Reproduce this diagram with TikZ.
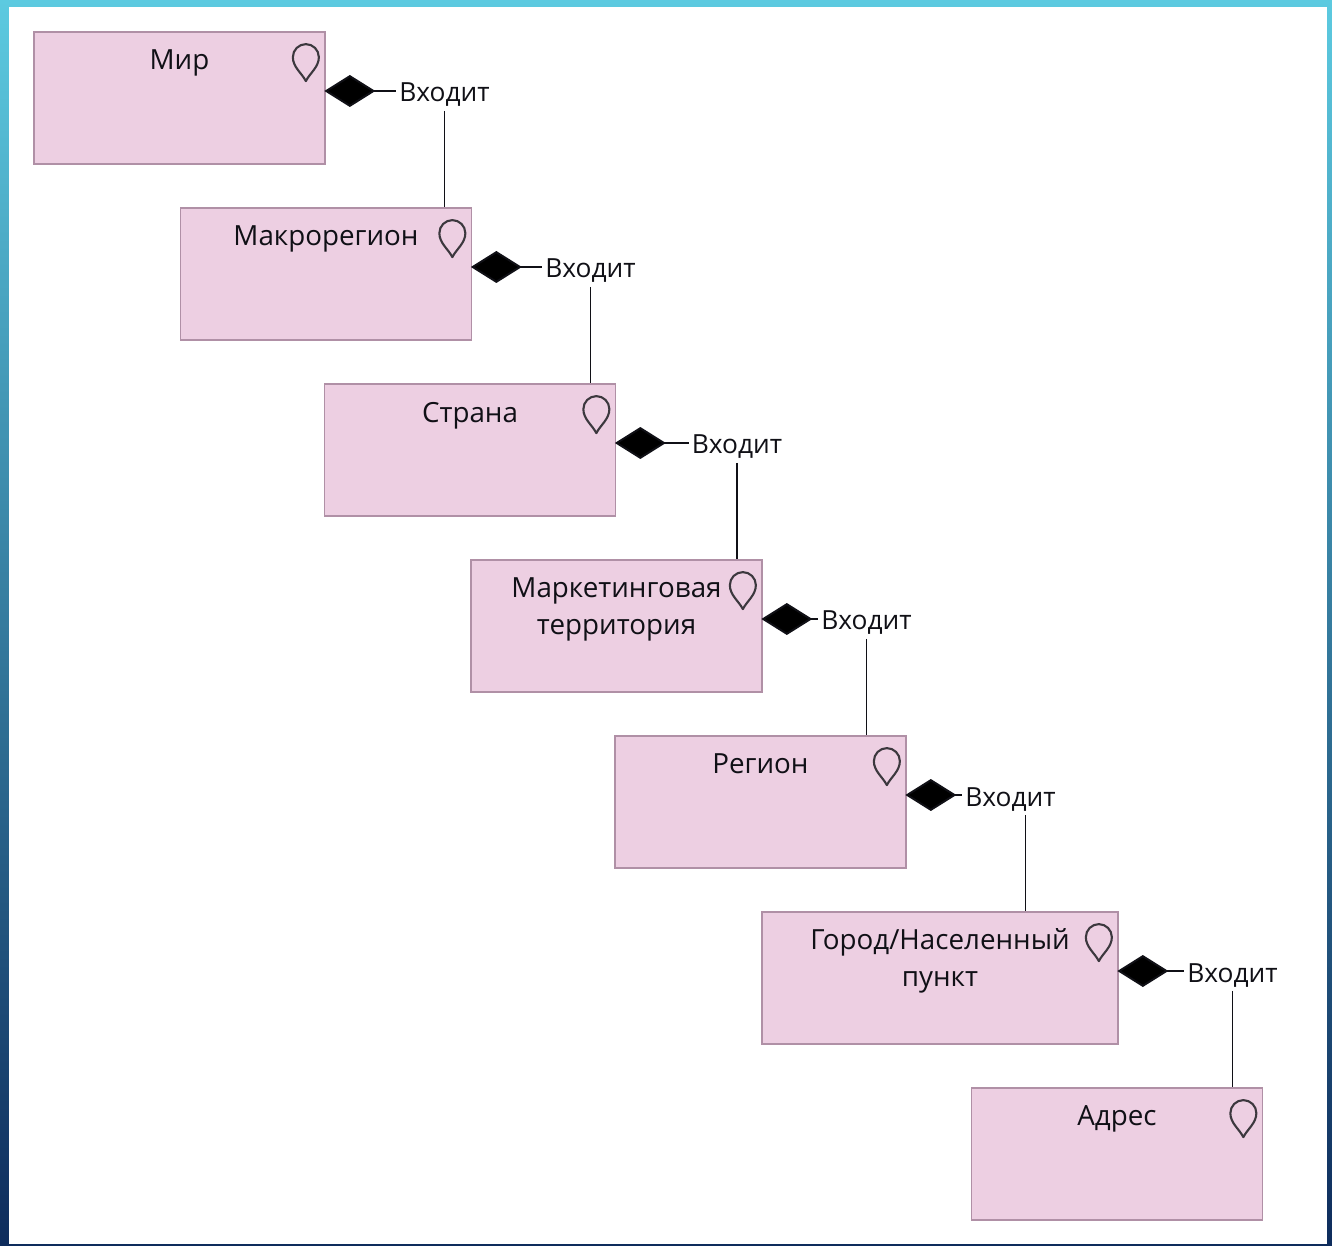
\documentclass[tikz,border=0pt]{standalone}
\usepackage{fontspec}
\setmainfont{Open Sans}
\usetikzlibrary{arrows.meta}
\tikzset{
  rolebox/.style={draw=roleedge, fill=rolefill, line width=1pt, minimum width=5.82cm, minimum height=2.64cm, inner sep=0pt},
  roletext/.style={anchor=north, align=center, text=roleink, inner sep=0pt, font=\fontsize{15.8}{21}\selectfont, yshift=-0.37cm},
  linktext/.style={text=roleink, inner sep=0.05cm, text height=0.56cm, text depth=0.12cm, font=\fontsize{15}{17}\selectfont},
  partof/.style={draw=roleink, line width=1.1pt, shorten <=-0.03cm, {Diamond[length=1.02cm, width=0.64cm, fill=black]}-},
  link/.style={draw=roleink, line width=1.1pt},
  rolepin/.pic={
    \draw[draw=pinink, line width=1.2pt, line join=round] (-20,50) .. controls (-24,42) and (-33,36) .. (-33,26)
      arc[start angle=180, end angle=360, radius=13] .. controls (-7,36) and (-16,42) .. cycle;
  }
}
\begin{document}
\begin{tikzpicture}[x=0.02cm, y=-0.02cm]
  % Define colors
  \definecolor{rolefill}{RGB}{237,207,226}
  \definecolor{roleedge}{RGB}{176,144,166}
  \definecolor{roleink}{RGB}{16,16,22}
  \definecolor{pinink}{RGB}{60,56,62}
  \definecolor{frametop}{RGB}{92,202,224}
  \definecolor{framemid}{RGB}{52,150,190}
  \definecolor{framelow}{RGB}{14,44,92}

  % Draw frame
  \shade[top color=frametop, middle color=framemid, bottom color=framelow] (0,0) rectangle (1332,1246);
  \fill[white] (9,7) rectangle (1327,1244);

  % Draw boxes
  \node[rolebox] (mir) at (179.5,98) {};
  \node[rolebox] (makro) at (326,274) {};
  \node[rolebox] (strana) at (470,450) {};
  \node[rolebox] (market) at (616.5,626) {};
  \node[rolebox] (region) at (760.5,802) {};
  \node[rolebox, minimum width=7.12cm] (gorod) at (940,978) {};
  \node[rolebox] (adres) at (1117,1154) {};

  % Add box names
  \node[roletext] (mirname) at (mir.north) {Мир};
  \node[roletext] (makroname) at (makro.north) {Макрорегион};
  \node[roletext] (strananame) at (strana.north) {Страна};
  \node[roletext] (marketname) at (market.north) {Маркетинговая\\территория};
  \node[roletext] (regionname) at (region.north) {Регион};
  \node[roletext, yshift=0.03cm] (gorodname) at (gorod.north) {Город/Населенный\\пункт};
  \node[roletext] (adresname) at (adres.north) {Адрес};

  % Add pins
  \pic at (mir.north east) {rolepin};
  \pic at (makro.north east) {rolepin};
  \pic at (strana.north east) {rolepin};
  \pic at (market.north east) {rolepin};
  \pic at (region.north east) {rolepin};
  \pic at (gorod.north east) {rolepin};
  \pic at (adres.north east) {rolepin};

  % Add link labels
  \node[linktext] (vhod1) at (444.5,91) {Входит};
  \node[linktext] (vhod2) at (590.5,267) {Входит};
  \node[linktext] (vhod3) at (737,443) {Входит};
  \node[linktext] (vhod4) at (866.5,619) {Входит};
  \node[linktext] (vhod5) at (1010.5,795) {Входит};
  \node[linktext] (vhod6) at (1232.5,971) {Входит};

  % Draw links
  \draw[partof] (vhod1.west -| mir.east) -- (vhod1.west);
  \draw[partof] (vhod2.west -| makro.east) -- (vhod2.west);
  \draw[partof] (vhod3.west -| strana.east) -- (vhod3.west);
  \draw[partof] (vhod4.west -| market.east) -- (vhod4.west);
  \draw[partof] (vhod5.west -| region.east) -- (vhod5.west);
  \draw[partof] (vhod6.west -| gorod.east) -- (vhod6.west);
  \draw[link] (vhod1.south) -- (vhod1.south |- makro.north);
  \draw[link] (vhod2.south) -- (vhod2.south |- strana.north);
  \draw[link] (vhod3.south) -- (vhod3.south |- market.north);
  \draw[link] (vhod4.south) -- (vhod4.south |- region.north);
  \draw[link] ([xshift=0.3cm]vhod5.south) -- ([xshift=0.3cm]vhod5.south |- gorod.north);
  \draw[link] (vhod6.south) -- (vhod6.south |- adres.north);
\end{tikzpicture}
\end{document}
